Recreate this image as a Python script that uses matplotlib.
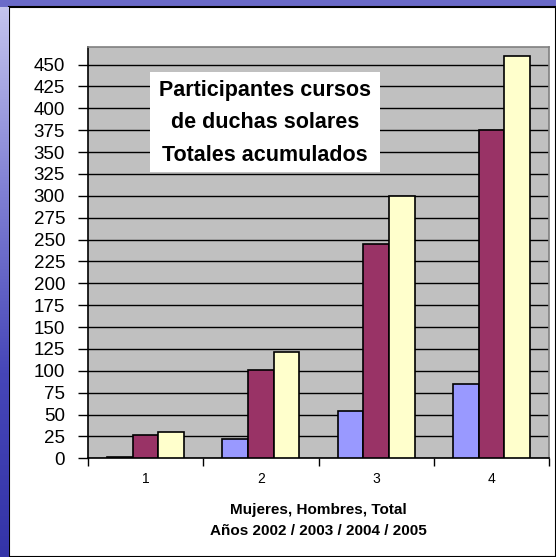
import numpy as np
import matplotlib
matplotlib.use('Agg')
import matplotlib.pyplot as plt
from matplotlib.patches import Rectangle

plt.rcParams['font.family'] = ['Liberation Sans', 'DejaVu Sans']

# data
grupos = ['1', '2', '3', '4']
mujeres = [2, 22, 54, 85]
hombres = [27, 101, 245, 375]
total = [30, 122, 300, 460]
yticks = list(range(0, 451, 25))

W, H = 556, 557
fig = plt.figure(figsize=(W / 100, H / 100), dpi=100)
fig.patch.set_facecolor('#6a6ac8')

# left blue gradient strip
strip = fig.add_axes([0, 0, 9 / W, 1 - 7 / H])
grad = np.linspace(0, 1, 256).reshape(-1, 1)
cmap = matplotlib.colors.LinearSegmentedColormap.from_list(
    'st', ['#c4c4ee', '#8080d4', '#4646b8', '#3434a8'])
strip.imshow(grad, aspect='auto', cmap=cmap, extent=[0, 1, 0, 1])
strip.axis('off')

# white panel
fig.patches.append(Rectangle((9 / W, 0), 1 - 9 / W, 1 - 7 / H, transform=fig.transFigure,
                             facecolor='white', edgecolor='black', linewidth=1.5, zorder=-1))

ax = fig.add_axes([88 / W, 1 - 458.3 / H, 461 / W, 411.3 / H])
ax.set_facecolor('#c0c0c0')

x = np.arange(1, len(grupos) + 1)
bw = 0.223
kw = dict(width=bw, edgecolor='black', linewidth=1.2, zorder=3)
ax.bar(x - bw, mujeres, color='#9999ff', **kw)
ax.bar(x, hombres, color='#993366', **kw)
ax.bar(x + bw, total, color='#ffffcc', **kw)

ax.set_xlim(0.5, len(grupos) + 0.5)
ax.set_ylim(0, 470)
ax.set_yticks(yticks)
ax.set_yticklabels([str(v) for v in yticks], fontsize=13.5)
ax.yaxis.grid(True, color='black', linewidth=1.0, zorder=1)
ax.set_axisbelow(True)
ax.tick_params(axis='y', direction='out', length=7.5, width=1, pad=9)

ax.set_xticks(x)
ax.set_xticklabels(grupos, fontsize=10)
ax.set_xticks(np.arange(0.5, len(grupos) + 1, 1), minor=True)
ax.tick_params(axis='x', which='major', length=0, pad=10)
ax.tick_params(axis='x', which='minor', direction='out', length=6, width=1)

for s in ['top', 'right']:
    ax.spines[s].set_color('#808080')
    ax.spines[s].set_linewidth(1.2)
for s in ['left', 'bottom']:
    ax.spines[s].set_color('black')
    ax.spines[s].set_linewidth(1.2)

ax.set_xlabel('Mujeres, Hombres, Total\nAños 2002 / 2003 / 2004 / 2005',
              fontsize=11, fontweight='bold', labelpad=12, linespacing=1.65)

# title box inside the plot
fig.patches.append(Rectangle((150 / W, 1 - 172 / H), 230 / W, 100 / H, transform=fig.transFigure,
                             facecolor='white', edgecolor='none', zorder=2))
fig.text(265 / W, 1 - 123 / H,
         'Participantes cursos\nde duchas solares\nTotales acumulados',
         ha='center', va='center', fontsize=15.5, fontweight='bold',
         linespacing=1.7, zorder=3)

fig.savefig('out.png', dpi=100, facecolor=fig.get_facecolor())
